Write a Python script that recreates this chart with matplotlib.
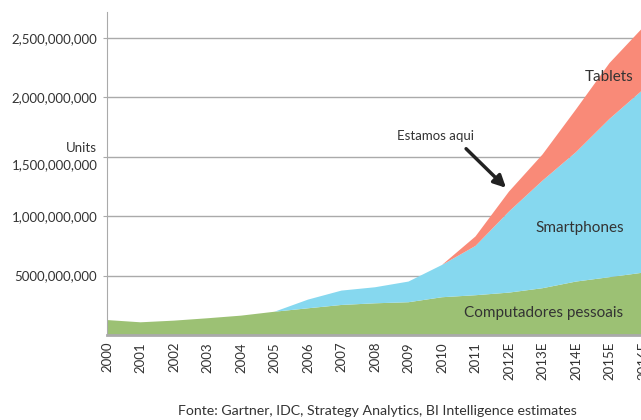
import matplotlib
matplotlib.use("Agg")
from matplotlib import pyplot as plt
from matplotlib import transforms

# stacked units by year
years = list(range(2000, 2017))
year_labels = ["2000", "2001", "2002", "2003", "2004", "2005", "2006", "2007", "2008",
               "2009", "2010", "2011", "2012E", "2013E", "2014E", "2015E", "2016E"]
pcs = [126e6, 107e6, 121e6, 141e6, 163e6, 196e6, 225e6, 253e6, 267e6,
       276e6, 318e6, 335e6, 357e6, 394e6, 450e6, 487e6, 525e6]
smartphones = [0, 0, 0, 0, 0, 0, 73e6, 121e6, 135e6,
               174e6, 272e6, 415e6, 683e6, 906e6, 1090e6, 1333e6, 1541e6]
tablets = [0, 0, 0, 0, 0, 0, 0, 0, 0,
           0, 0, 80e6, 168e6, 220e6, 360e6, 470e6, 524e6]

ytick_vals = [500e6, 1000e6, 1500e6, 2000e6, 2500e6]
ytick_labels = ["5000,000,000", "1,000,000,000", "1,500,000,000", "2,000,000,000", "2,500,000,000"]

plt.rcParams['font.family'] = ['Lato', 'DejaVu Sans']
txt = '#333333'
grey = '#aaaaaa'

fig = plt.figure(figsize=(6.41, 4.20), dpi=100)
ax = fig.add_axes([107 / 641, 85 / 420, 536 / 641, 323 / 420])

ax.stackplot(years, pcs, smartphones, tablets,
             colors=['#9cc174', '#86d8ef', '#f98a78'], linewidth=0)

ax.set_xlim(2000, 2016)
ax.set_ylim(0, 2.72e9)
ax.set_yticks(ytick_vals)
ax.set_yticklabels(ytick_labels, fontsize=9.5, color=txt)
ax.set_xticks(years)
ax.set_xticklabels(year_labels, rotation=90, fontsize=9.5, color=txt)
ax.tick_params(axis='y', length=3, color=grey, pad=4)
ax.tick_params(axis='x', length=0, pad=5)
ax.grid(axis='y', color=grey, linewidth=1)
ax.set_axisbelow(True)

# the 1.5B label sits a bit lower, under "Units"
lab = ax.get_yticklabels()[2]
lab.set_transform(lab.get_transform() + transforms.ScaledTranslation(0, -7 / 100, fig.dpi_scale_trans))

for s in ['top', 'right']:
    ax.spines[s].set_visible(False)
ax.spines['left'].set_color(grey)
ax.spines['bottom'].set_color(grey)
ax.spines['bottom'].set_linewidth(2)
ax.spines['bottom'].set_zorder(5)

fig.text(97 / 641, 1 - 148 / 420, "Units", ha='right', va='center', fontsize=9.5, color=txt)

ax.text(2014.99, 2175e6, "Tablets", ha='center', va='center', fontsize=11, color=txt)
ax.text(2014.12, 902e6, "Smartphones", ha='center', va='center', fontsize=11, color=txt)
ax.text(2013.04, 185e6, "Computadores pessoais", ha='center', va='center', fontsize=11, color=txt)

ax.annotate("", xy=(2011.97, 1223e6), xytext=(2010.66, 1585e6),
            arrowprops=dict(arrowstyle='-|>', color='#222222', lw=2.5, mutation_scale=18))
ax.text(2009.82, 1678e6, "Estamos aqui", ha='center', va='center', fontsize=9.5, color=txt)

fig.text(377 / 641, 1 - 411 / 420, "Fonte: Gartner, IDC, Strategy Analytics, BI Intelligence estimates",
         ha='center', va='center', fontsize=10.2, color=txt)

fig.savefig("out.png", dpi=100)
